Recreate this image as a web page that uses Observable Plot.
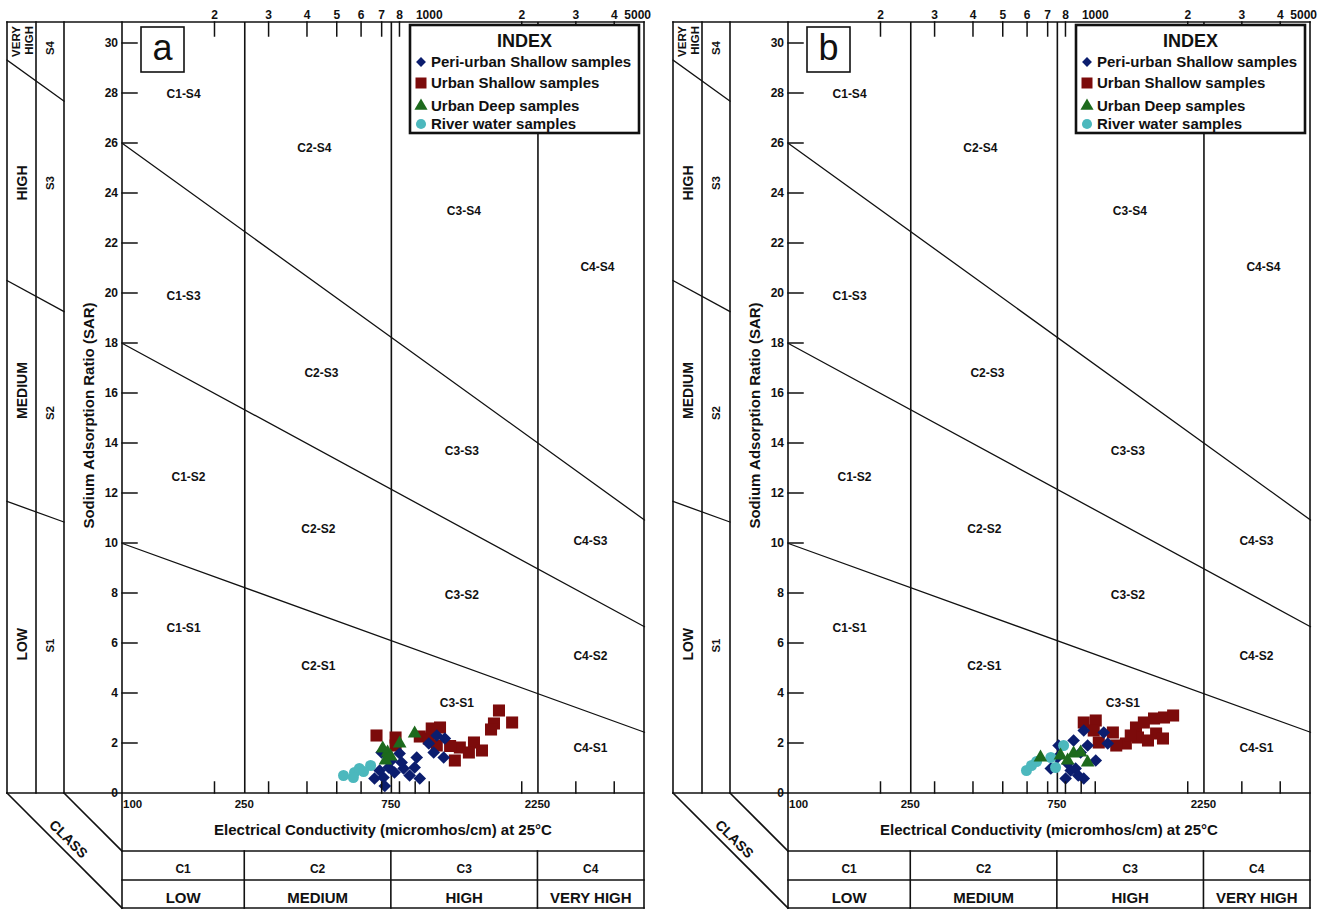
<!DOCTYPE html>
<html>
<head>
<meta charset="utf-8">
<script src="https://cdn.jsdelivr.net/npm/d3@7"></script>
<script src="https://cdn.jsdelivr.net/npm/@observablehq/plot@0.6"></script>
<style>
  html, body { margin: 0; padding: 0; background: #fff; }
  #figure { display: flex; width: 1332px; }
</style>
</head>
<body>
<div id="figure"></div>
<script>
// ---------------- Data (EC in micromhos/cm at 25°C, SAR) ----------------
const seriesNames = ["Peri-urban Shallow samples", "Urban Shallow samples", "Urban Deep samples", "River water samples"];

// Panel a
const periUrbanShallowA = [[661,0.6],[707,0.64],[714,0.3],[697,1.64],[735,1.04],[798,1.6],[822,1.0],[860,0.72],[907,1.44],[893,1.04],[928,0.6],[993,2.0],[1054,2.32],[1120,2.2],[1030,1.64],[1110,1.44],[810,1.24],[750,1.32],[687,0.92],[768,0.84]];
const urbanShallowA = [[671,2.32],[774,2.24],[774,1.92],[928,2.28],[993,2.2],[1015,2.6],[1080,2.64],[1054,1.92],[1253,1.84],[1393,2.04],[1479,1.72],[1341,1.64],[1207,1.32],[1680,3.32],[1618,2.8],[1854,2.84],[1165,1.9],[1583,2.56]];
const urbanDeepA = [[729,1.64],[718,1.32],[746,1.48],[798,2.0],[893,2.4],[703,1.8]];
const riverA = [[524,0.72],[569,0.84],[590,1.0],[642,1.12],[564,0.64],[609,0.88]];

// Panel b
const periUrbanShallowB = [[914,2.52],[1062,2.44],[1094,2.0],[847,2.12],[757,1.92],[941,1.92],[893,1.64],[1000,1.32],[810,1.2],[829,0.92],[860,1.0],[798,0.6],[914,0.6],[714,1.0],[750,1.44],[877,0.72]];
const urbanShallowB = [[914,2.84],[1000,2.92],[985,2.52],[1023,2.04],[1137,2.44],[1253,2.0],[1352,2.64],[1434,2.84],[1548,3.0],[1668,3.04],[1786,3.12],[1572,2.4],[1655,2.2],[1372,2.24],[1479,2.12],[1300,2.32],[1166,1.92]];
const urbanDeepB = [[661,1.44],[768,1.52],[847,1.6],[893,1.64],[941,1.24],[810,1.32]];
const riverB = [[595,0.92],[618,1.12],[642,1.28],[714,1.44],[740,1.04],[786,1.92]];

// Salinity classes (EC breaks) and sodium hazard boundaries (SAR at EC 100 and 5000)
const classBreaks = [250, 750, 2250];
const classCodes = ["C1", "C2", "C3", "C4"];
const classNames = ["LOW", "MEDIUM", "HIGH", "VERY HIGH"];
const hazardBoundaries = ["S1/S2", "S2/S3", "S3/S4"];
const hazardSarAt100 = [10, 18, 26];
const hazardSarAt5000 = [2.45, 6.67, 10.94];
const sodiumCodes = ["S1", "S2", "S3", "S4"];
const sodiumNames = ["LOW", "MEDIUM", "HIGH", "VERY HIGH"];

// Zone names
const zoneNames = ["C1-S4","C2-S4","C3-S4","C4-S4","C1-S3","C2-S3","C3-S3","C4-S3","C1-S2","C2-S2","C3-S2","C4-S2","C1-S1","C2-S1","C3-S1","C4-S1"];

// Axis ticks
const sarTicks = [0,2,4,6,8,10,12,14,16,18,20,22,24,26,28,30];
const ecBottomTicks = [200,300,400,500,600,700,800,900,1000,2000,3000,4000];
const ecBottomLabels = [100, 250, 750, 2250];
const ecTopTicks = [200,300,400,500,600,700,800,2000,3000,4000];
const ecTopLabelValues = [200,300,400,500,600,700,800,1000,2000,3000,4000,5000];
const ecTopLabelText = ["2","3","4","5","6","7","8","1000","2","3","4","5000"];

// ---------------- Layout & style ----------------
const FONT = "'Liberation Sans', Arial, Helvetica, sans-serif";
const INK = "#111";
const W = 666, H = 911;
const ecMin = 100, ecMax = 5000, sarTop = 30.84;
// label anchor points of each zone, in data units (same order as zoneNames)
const zoneAnchorEC = [158,421,1291,3513, 158,444,1272,3333, 164,434,1272,3333, 158,434,1225,3333];
const zoneAnchorSAR = [27.96,25.8,23.3,21.04, 19.9,16.8,13.68,10.08, 12.64,10.56,7.92,5.48, 6.6,5.08,3.6,1.8];
// side column label heights (SAR units), S1..S4
const sodiumNameAt = [5.95, 16.1, 24.4, null];
const sodiumCodeAt = [5.9, 15.2, 24.4, 29.8];

const seriesStyle = [
  {symbol: d3.symbolDiamond2, fill: "#0b1d6e", r: 5.7},
  {symbol: d3.symbolSquare,   fill: "#7c0b0b", r: 6.8},
  {symbol: d3.symbolTriangle, fill: "#1d6a1d", r: 5.1},
  {symbol: d3.symbolCircle,   fill: "#4cb8bd", r: 5.5}
];
const drawOrder = [1, 0, 3, 2];

const sarOn = (i, ec) =>
  hazardSarAt100[i] + (hazardSarAt5000[i] - hazardSarAt100[i]) * Math.log10(ec / ecMin) / Math.log10(ecMax / ecMin);

function panel(letter, groups) {
  const hazardLines = hazardBoundaries.flatMap((b, i) => [
    {boundary: b, ec: ecMin, sar: hazardSarAt100[i]},
    {boundary: b, ec: ecMax, sar: hazardSarAt5000[i]}
  ]);
  const zoneLabels = zoneNames.map((z, i) => ({label: z, ec: zoneAnchorEC[i], sar: zoneAnchorSAR[i]}));

  const plot = Plot.plot({
    width: W, height: H,
    marginLeft: 122, marginRight: 22, marginTop: 22, marginBottom: 118,
    style: {background: "white", fontFamily: FONT, color: INK},
    x: {type: "log", domain: [ecMin, ecMax], axis: null},
    y: {domain: [0, sarTop], axis: null},
    marks: [
      Plot.line(hazardLines, {x: "ec", y: "sar", z: "boundary", stroke: INK, strokeWidth: 1.3}),
      Plot.ruleX(classBreaks, {y1: 0, y2: sarTop, stroke: INK, strokeWidth: 1.6}),
      Plot.text(zoneLabels, {x: "ec", y: "sar", text: "label", fontSize: 12, fontWeight: "bold", fill: INK}),
      ...drawOrder.map(k => Plot.dot(groups[k], {
        x: d => d[0], y: d => d[1],
        symbol: seriesStyle[k].symbol, fill: seriesStyle[k].fill, r: seriesStyle[k].r
      }))
    ]
  });

  const svg = d3.select(plot);
  const sx = plot.scale("x"), sy = plot.scale("y");
  const X = v => sx.apply(v), Y = v => sy.apply(v);
  const x0 = X(ecMin), x1 = X(ecMax), y0 = Y(0), yT = Y(sarTop);
  const invX = px => sx.invert ? sx.invert(px) : ecMin * Math.pow(ecMax / ecMin, (px - x0) / (x1 - x0));

  // side panel columns and table rows
  const side = [x0 - 115, x0 - 86, x0 - 58];
  const rows = [y0 + 58, y0 + 87, y0 + 115];

  const g = svg.append("g").attr("stroke", INK).attr("fill", "none").attr("stroke-linecap", "square");
  const seg = (xa, ya, xb, yb, w = 1.6) =>
    g.append("line").attr("x1", xa).attr("y1", ya).attr("x2", xb).attr("y2", yb).attr("stroke-width", w);

  // frame
  seg(side[0], yT, x1, yT);
  seg(side[0], yT, side[0], y0);
  seg(side[1], yT, side[1], y0);
  seg(side[2], yT, side[2], y0);
  seg(side[0], y0, x0, y0);
  seg(x0, yT, x0, rows[2]);
  seg(x0, y0, x1, y0);
  seg(x1, yT, x1, rows[2]);
  rows.forEach(r => seg(x0, r, x1, r));
  classBreaks.forEach(c => seg(X(c), rows[0], X(c), rows[2]));
  seg(side[0], y0, x0, y0 + (x0 - side[0]));
  seg(side[2], y0, x0, y0 + (x0 - side[2]));

  // sodium hazard boundaries carried into the side panel
  hazardBoundaries.forEach((b, i) => {
    const ea = invX(side[0]), eb = invX(side[2]);
    seg(side[0], Y(sarOn(i, ea)), side[2], Y(sarOn(i, eb)), 1.3);
  });

  // ticks
  sarTicks.filter(v => v > 0).forEach(v => seg(x0, Y(v), x0 + 15, Y(v), 1.5));
  ecBottomTicks.forEach(v => seg(X(v), y0, X(v), y0 - 11, 1.5));
  ecTopTicks.forEach(v => seg(X(v), yT, X(v), yT + 14, 1.5));

  // panel letter box and legend box (drawn before their texts)
  svg.append("rect").attr("x", x0 + 19).attr("y", yT + 5).attr("width", 43).attr("height", 45)
    .attr("fill", "white").attr("stroke", INK).attr("stroke-width", 1.6);
  const lx = x1 - 234, ly = yT + 3;
  svg.append("rect").attr("x", lx).attr("y", ly).attr("width", 229).attr("height", 108)
    .attr("fill", "white").attr("stroke", INK).attr("stroke-width", 2.6);

  const t = svg.append("g").attr("fill", INK).attr("font-weight", "bold");
  const txt = (s, x, y, o = {}) => {
    const e = t.append("text").attr("x", x).attr("y", y).text(s)
      .attr("font-size", o.size || 12)
      .attr("text-anchor", o.anchor || "middle");
    if (o.weight) e.attr("font-weight", o.weight);
    if (o.dy) e.attr("dy", o.dy);
    if (o.rotate != null) e.attr("transform", `rotate(${o.rotate},${x},${y})`);
    return e;
  };

  // tick labels
  sarTicks.forEach(v => txt(String(v), x0 - 4, Y(v), {anchor: "end", dy: "0.36em"}));
  ecBottomLabels.forEach(v => txt(String(v), X(v) + (v === ecMin ? 1 : 0), y0 + 15, {size: 11.5, anchor: v === ecMin ? "start" : "middle"}));
  ecTopLabelValues.forEach((v, i) => txt(ecTopLabelText[i], X(v) + (v === ecMax ? 7 : 0), yT - 3, {anchor: v === ecMax ? "end" : "middle"}));

  // axis titles
  txt("Electrical Conductivity (micromhos/cm) at 25°C", (x0 + x1) / 2, y0 + 42, {size: 15});
  txt("Sodium Adsorption Ratio (SAR)", x0 - 28, Y(15.1), {size: 15, rotate: -90});

  // class table
  const bounds = [ecMin, ...classBreaks, ecMax];
  classCodes.forEach((c, i) => {
    const cx = (X(bounds[i]) + X(bounds[i + 1])) / 2;
    txt(c, cx, rows[0] + 22, {size: 12});
    txt(classNames[i], cx, rows[1] + 23, {size: 15});
  });
  txt("CLASS", (side[0] + side[2]) / 2 + 33, y0 + 46, {size: 14, rotate: 45, dy: "0.35em"});

  // sodium hazard side columns
  const c1 = (side[0] + side[1]) / 2, c2 = (side[1] + side[2]) / 2;
  sodiumNames.forEach((n, i) => {
    if (i === 3) return;
    txt(n, c1, Y(sodiumNameAt[i]), {size: 14, rotate: -90, dy: "0.36em"});
  });
  txt("VERY", c1 - 6, yT + 4, {size: 11.5, rotate: -90, anchor: "end", dy: "0.36em"});
  txt("HIGH", c1 + 7, yT + 4, {size: 11.5, rotate: -90, anchor: "end", dy: "0.36em"});
  sodiumCodes.forEach((s, i) => txt(s, c2, Y(sodiumCodeAt[i]), {size: 11.5, rotate: -90, dy: "0.36em"}));

  // panel letter
  txt(letter, x0 + 40.5, yT + 37.5, {size: 36, weight: "normal"});

  // legend entries
  txt("INDEX", lx + 114.5, ly + 21.5, {size: 18});
  const entryBase = [42, 63, 86, 104];
  const legendSizes = [62, 121, 75, 80];
  seriesNames.forEach((name, k) => {
    t.append("path")
      .attr("d", d3.symbol(seriesStyle[k].symbol, legendSizes[k])())
      .attr("transform", `translate(${lx + 11},${ly + entryBase[k] - 5})`)
      .attr("fill", seriesStyle[k].fill);
    txt(name, lx + 21, ly + entryBase[k], {size: 15, anchor: "start"});
  });

  return plot;
}

const fig = document.getElementById("figure");
fig.append(panel("a", [periUrbanShallowA, urbanShallowA, urbanDeepA, riverA]));
fig.append(panel("b", [periUrbanShallowB, urbanShallowB, urbanDeepB, riverB]));
</script>
</body>
</html>
